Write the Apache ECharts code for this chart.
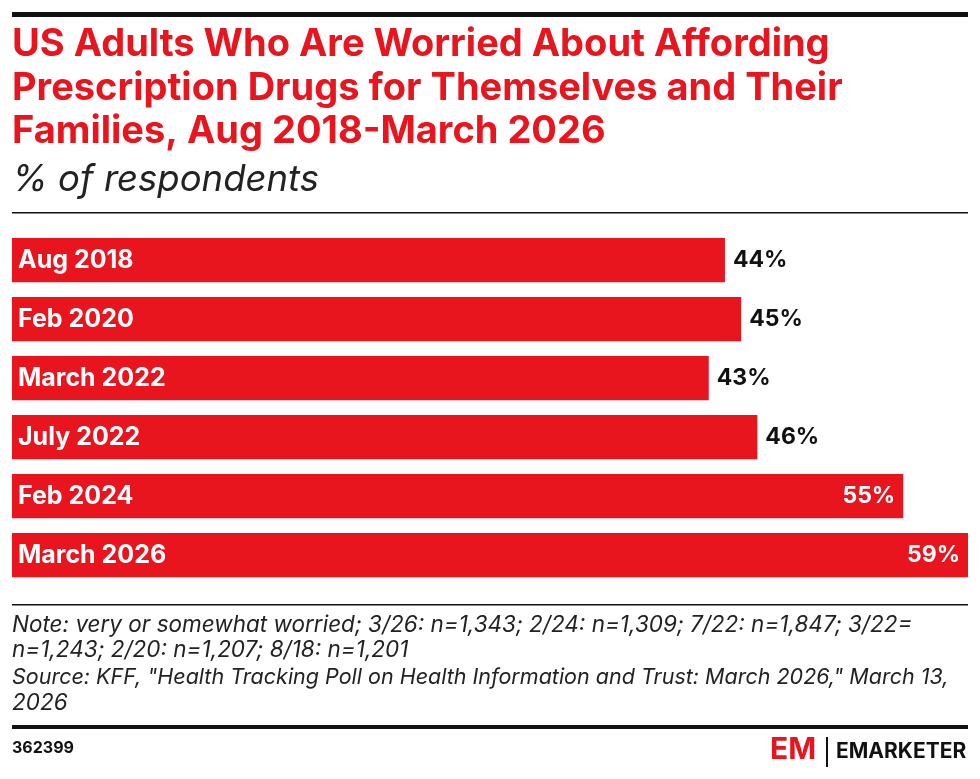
<!DOCTYPE html>
<html><head><meta charset="utf-8">
<script src="https://cdn.jsdelivr.net/npm/echarts@6/dist/echarts.min.js"></script>
<style>html,body{margin:0;padding:0;background:#fff}#c{width:980px;height:779px}</style>
</head><body><div id="c"></div>
<script>
const categories = ["Aug 2018","Feb 2020","March 2022","July 2022","Feb 2024","March 2026"];
const values = [44,45,43,46,55,59];
const insideThreshold = 50;

const chart = echarts.init(document.getElementById('c'), null, {renderer:'canvas'});
const F = 'Inter, "Noto Sans", sans-serif';
const red = '#e8141e';
const t = (x,y,text,style) => ({type:'text',left:x,top:y,style:Object.assign({text:text,font:'normal 19px '+F,fill:'#222'},style)});
chart.setOption({
  animation:false,
  grid:{left:12,top:230.5,width:956,height:354,containLabel:false},
  xAxis:{type:'value',min:0,max:59,show:false},
  yAxis:{type:'category',data:categories,inverse:true,show:false},
  series:[{
    type:'bar',barCategoryGap:'25%',
    data:values.map(v=>({value:v,label:{position:v>insideThreshold?'insideRight':'right',color:v>insideThreshold?'#fff':'#111',distance:8}})),
    itemStyle:{color:red},
    label:{show:true,formatter:'{c}%',fontFamily:F,fontWeight:'bold',fontSize:23}
  },{
    type:'bar',barGap:'-100%',barCategoryGap:'25%',silent:true,
    data:values.map(()=>0),
    label:{show:true,position:'insideLeft',formatter:p=>categories[p.dataIndex],color:'#fff',fontFamily:F,fontWeight:'bold',fontSize:25,distance:6}
  }],
  graphic:[
    {type:'rect',shape:{x:12,y:12,width:956,height:5},style:{fill:'#111'}},
    t(12,26,'US Adults Who Are Worried About Affording',{font:'bold 38px '+F,fill:red}),
    t(12,70,'Prescription Drugs for Themselves and Their',{font:'bold 38px '+F,fill:red}),
    t(12,113,'Families, Aug 2018-March 2026',{font:'bold 38px '+F,fill:red}),
    t(12,162,'% of respondents',{font:'italic 36.5px '+F,fill:'#222'}),
    {type:'rect',shape:{x:12,y:212,width:956,height:1.5},style:{fill:'#111'}},
    {type:'rect',shape:{x:12,y:604,width:956,height:1.5},style:{fill:'#111'}},
    t(12,614,'Note: very or somewhat worried; 3/26: n=1,343; 2/24: n=1,309; 7/22: n=1,847; 3/22=',{font:'italic 22.5px '+F}),
    t(12,639,'n=1,243; 2/20: n=1,207; 8/18: n=1,201',{font:'italic 22.5px '+F}),
    t(12,667,'Source: KFF, "Health Tracking Poll on Health Information and Trust: March 2026," March 13,',{font:'italic 21.5px '+F}),
    t(12,692,'2026',{font:'italic 22.5px '+F}),
    {type:'rect',shape:{x:12,y:725,width:956,height:4},style:{fill:'#111'}},
    t(12,740,'362399',{font:'bold 16px '+F,fill:'#111'}),
    t(770,735,'EM',{font:'bold 30px '+F,fill:red}),
    {type:'rect',shape:{x:826,y:737,width:2,height:30},style:{fill:'#111'}},
    t(836,741,'EMARKETER',{font:'bold 21px '+F,fill:'#111'})
  ]
});
</script></body></html>
